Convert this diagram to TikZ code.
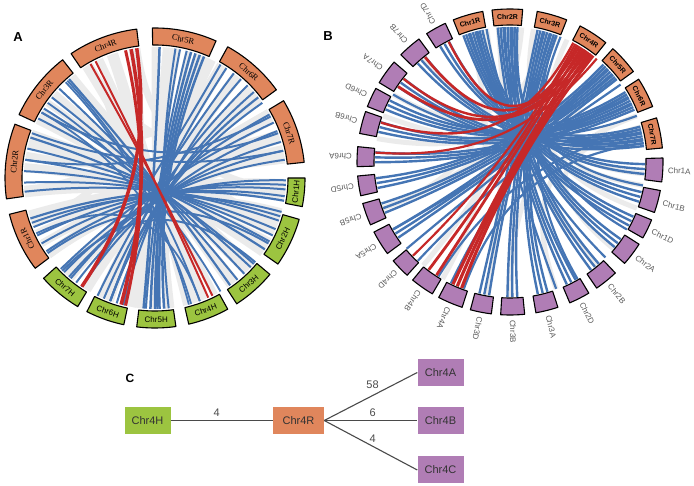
\documentclass[tikz,border=0pt]{standalone}
\usepackage{fontspec}
\setmainfont{Liberation Sans}
\newfontfamily\ryefont{Liberation Serif}
\usetikzlibrary{calc, positioning}
\definecolor{ryeOrange}{HTML}{E0865C}
\definecolor{barleyGreen}{HTML}{9CC440}
\definecolor{wheatPurple}{HTML}{B07DB5}
\definecolor{synBlue}{HTML}{4575B4}
\definecolor{synRed}{HTML}{C62828}
\definecolor{synGray}{HTML}{EBEBEB}
\definecolor{labelGray}{HTML}{5A5A5A}
\definecolor{edgeGray}{HTML}{4A4A4A}

\begin{document}
\begin{tikzpicture}[x=1pt, y=1pt,
    chrbox/.style={draw=black, line width=1.1pt, line join=round},
    ryelbl/.style={font=\ryefont\fontsize{8.5}{9}\selectfont, inner sep=0pt},
    hvlbl/.style={font=\fontsize{8}{9}\selectfont, inner sep=0pt},
    rylbl/.style={font=\bfseries\fontsize{7}{8}\selectfont, inner sep=0pt},
    whlbl/.style={font=\fontsize{8}{9}\selectfont, text=labelGray, inner sep=0pt, anchor=west},
    panel/.style={font=\bfseries\fontsize{13}{14}\selectfont, inner sep=0pt},
    cbox/.style={minimum width=46pt, minimum height=27pt, inner sep=0pt, font=\fontsize{11}{12}\selectfont, text=black!80},
    cedge/.style={draw=edgeGray, line width=1.1pt},
    cnum/.style={font=\fontsize{11}{12}\selectfont, text=edgeGray, inner sep=0pt}]
  \useasboundingbox (0,0) rectangle (694,485);
  % Helper: ribbon between two angles round a centre (centre, radius, from, to, width, colour)
  \def\lnk#1#2#3#4#5#6{%
    \draw[#6, line width=#5pt, line cap=butt] ($(#1)+({#3}:#2)$)
      .. controls ($(#1)+({#3}:{0.3*#2})$) and ($(#1)+({#4}:{0.3*#2})$) .. ($(#1)+({#4}:#2)$);
  }
  % Helper: chromosome block (centre, from, to, inner r, outer r, fill)
  \def\seg#1#2#3#4#5#6{%
    \filldraw[chrbox, fill=#6] ($(#1)+({#2}:#5)$) arc[start angle=#2, end angle=#3, radius=#5]
      -- ($(#1)+({#3}:#4)$) arc[start angle=#3, end angle=#2, radius=#4] -- cycle;
  }

  % ---------------- A: rye vs barley
  \node[panel] (labA) at (18,448) {A};
  \coordinate (ca) at (155,307);
  % Fondo gris
  \foreach \fa/\fb in {85/262, 82/277, 64/246, 59/238, 52/270, 43/228, 37/257, 30/215, 26/239, 19/205,
      13/185, 8/170, 358/196, 353/216, 343/160, 339/187, 335/165, 329/176, 318/129, 314/154, 307/145,
      297/121, 292/115, 287/140, 284/108, 276/67, 271/90, 265/80, 257/50, 248/40, 245/58, 238/10,
      230/17, 226/28, 216/352, 210/345, 199/331, 186/330, 175/338, 163/325, 153/308, 140/316,
      130/305, 122/290, 110/260, 100/250, 70/355, 75/340, 200/120, 185/100, 150/60, 210/30, 120/20, 98/8} {
    \lnk{ca}{131}{\fa}{\fb}{7}{synGray}
  }
  % Sintenia (azul)
  \foreach \fa/\fb/\w in {68/274/2.5, 70/272/2.5, 72/270/2.5, 74/268/2.5, 76/266/2, 79/271/2, 81/276/2, 88/265/2.5,
      38/250/2.2, 41/253/2, 45/247/2, 49/256/2, 53/244/2, 57/250/2,
      8/226/2, 12/229/2, 16/233/2, 21/236/2, 25/224/2, 29/230/2,
      350/198/2.2, 352/202/2, 355/206/2, 357/210/2, 359/214/2,
      327/162/2.2, 331/167/2, 334/172/2, 337/177/2, 341/182/2, 343/186/2,
      305/131/2.2, 309/137/2, 313/142/2, 317/148/2, 319/153/2,
      150/20/2, 160/12/2, 172/28/2, 200/345/2, 205/290/1.8, 215/330/2, 225/320/2,
      236/60/2, 250/35/2, 286/150/1.8, 290/132/1.8, 133/285/1.8, 145/300/1.8} {
    \lnk{ca}{131}{\fa}{\fb}{\w}{synBlue}
  }
  % Chr4R (rojo)
  \foreach \fa/\fb/\w in {98/236/3.5, 100.5/255/3.5, 103/257/3, 117/294/2, 119.5/296/2} {
    \lnk{ca}{131}{\fa}{\fb}{\w}{synRed}
  }
  % Bloques R
  \foreach \nm/\fa/\fb in {Chr1R/194/217, Chr2R/159/188, Chr3R/128/155, Chr4R/97/124,
      Chr5R/66/91, Chr6R/36/61, Chr7R/6/31} {
    \pgfmathsetmacro\ang{(\fa+\fb)/2}
    \pgfmathsetmacro\rot{\ang-90}
    \seg{ca}{\fa}{\fb}{133}{150}{ryeOrange}
    \node[ryelbl, rotate=\rot] (A-\nm) at ($(ca)+(\ang:141.5)$) {\nm};
  }
  % Bloques H
  \foreach \nm/\fa/\fb in {Chr1H/349/360, Chr2H/325/344, Chr3H/303/320, Chr4H/283/299,
      Chr5H/263/278, Chr6H/243/258, Chr7H/222/239} {
    \pgfmathsetmacro\ang{(\fa+\fb)/2}
    \pgfmathsetmacro\rot{\ang+90}
    \seg{ca}{\fa}{\fb}{133}{150}{barleyGreen}
    \node[hvlbl, rotate=\rot] (A-\nm) at ($(ca)+(\ang:141.5)$) {\nm};
  }

  % ---------------- B: rye vs wheat
  \node[panel] (labB) at (328,449) {B};
  \coordinate (cb) at (510,323);
  \foreach \fa/\fb in {105/-50, 95/-100, 80/-20, 70/-130, 60/-160, 45/170, 30/-10, 15/-40, 10/160,
      100/-160, 85/150, 65/-5, 40/-90, 20/-70, 108/-120, 75/130} {
    \lnk{cb}{135}{\fa}{\fb}{5}{synGray}
  }
  % R -> A, B, D
  \foreach \s/\tl in {106/{-3,-15,-26}, 91/{-37,-51,-63}, 74/{-76,-89,-101},
      42/{-148,-160,-171}, 27/{178,165,155}, 11/{144,131,119}} {
    \foreach \t [count=\k] in \tl {
      \foreach \o in {-3,0,3} {
        \lnk{cb}{135}{\s+\o+(\k-2)*1.2}{\t-\o*0.7}{2.4}{synBlue}
      }
    }
  }
  \foreach \fa/\fb in {8/-110, 14/-122, 30/-133, 45/-116, 38/-140, 70/-30, 100/-45, 88/-10,
      20/150, 35/-150, 68/-60, 104/-70} {
    \lnk{cb}{135}{\fa}{\fb}{2.2}{synBlue}
  }
  \foreach \fa/\fb/\w in {52/-111/3.2, 54/-113/3.2, 56/-115/3.2, 58/-123/2.8, 60/-127/2.8, 61/-136/2.2,
      53/146/2.8, 55/142/2.4, 57/129/2.6, 59/117/2.4, 62/163/2.4, 50/176/2.2} {
    \lnk{cb}{135}{\fa}{\fb}{\w}{synRed}
  }
  % Bloques R (arriba)
  \foreach \nm/\ang in {Chr1R/106, Chr2R/91, Chr3R/74, Chr4R/57, Chr5R/42, Chr6R/27, Chr7R/11} {
    \pgfmathsetmacro\fa{\ang-5.75}
    \pgfmathsetmacro\fb{\ang+5.75}
    \pgfmathsetmacro\rot{\ang-90}
    \seg{cb}{\fa}{\fb}{137}{153}{ryeOrange}
    \node[rylbl, rotate=\rot] (B-\nm) at ($(cb)+(\ang:145)$) {\nm};
  }
  % Bloques A/B/D
  \foreach \nm/\ang/\w in {Chr1A/-3/9, Chr1B/-15/8.5, Chr1D/-26/7.5, Chr2A/-37/9, Chr2B/-51/9,
      Chr2D/-63/8, Chr3A/-76/8.5, Chr3B/-89/9, Chr3D/-101/8, Chr4A/-113/9.5, Chr4B/-125/9,
      Chr4D/-136/7.5, Chr5A/-148/9.5, Chr5B/-160/8.5, Chr5D/-171/7.5, Chr6A/178/7.5,
      Chr6B/165/8.5, Chr6D/155/7.5, Chr7A/144/9.5, Chr7B/131/9, Chr7D/119/8} {
    \pgfmathsetmacro\fa{\ang-\w/2}
    \pgfmathsetmacro\fb{\ang+\w/2}
    \seg{cb}{\fa}{\fb}{136}{153}{wheatPurple}
    \node[whlbl, rotate=\ang] (B-\nm) at ($(cb)+(\ang:158)$) {\nm};
  }

  % ---------------- C: Chr4R network
  \node[panel, font=\bfseries\fontsize{12}{13}\selectfont] (labC) at (130,107) {C};
  \node[cbox, fill=barleyGreen] (c4H) at (147.5,64.5) {Chr4H};
  \node[cbox, fill=ryeOrange, minimum width=51pt] (c4R) at (298.5,64.5) {Chr4R};
  \node[cbox, fill=wheatPurple] (c4A) at (440.5,112.5) {Chr4A};
  \node[cbox, fill=wheatPurple] (c4B) at (440.5,64.5) {Chr4B};
  \node[cbox, fill=wheatPurple] (c4C) at (440.5,15) {Chr4C};
  \draw[cedge] (c4H) -- node[cnum, pos=0.45, above=3pt] {4} (c4R);
  \draw[cedge] (c4R.east) -- node[cnum, pos=0.52, above=6pt] {58} (c4A.west);
  \draw[cedge] (c4R.east) -- node[cnum, pos=0.52, above=3pt] {6} (c4B.west);
  \draw[cedge] (c4R.east) -- node[cnum, pos=0.52, above=3pt] {4} (c4C.west);
\end{tikzpicture}
\end{document}
